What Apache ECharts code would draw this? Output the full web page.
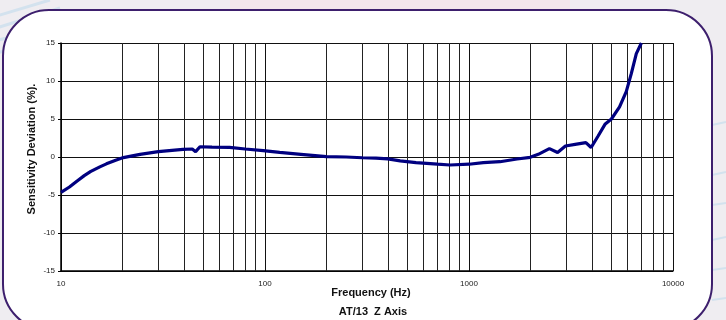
<!DOCTYPE html>
<html><head><meta charset="utf-8">
<script src="https://cdn.jsdelivr.net/npm/echarts@6/dist/echarts.min.js"></script>
<style>html,body{margin:0;padding:0;background:#efedf1}#c{width:726px;height:320px}</style>
</head><body><div id="c"></div>
<script>
const freqs = [10, 11, 12, 13, 14, 15.5, 16.7, 18.4, 20.2, 24.4, 30, 35, 39.6, 44, 45.7, 48, 55, 67, 80, 98, 118, 150, 200, 250, 300, 350, 400, 460, 550, 700, 807, 1000, 1175, 1418, 1720, 1995, 2186, 2478, 2718, 2970, 3370, 3740, 3970, 4280, 4640, 4990, 5470, 5900, 6250, 6610, 7000];
const deviation = [-4.65, -3.95, -3.15, -2.45, -1.9, -1.3, -0.9, -0.45, -0.08, 0.35, 0.7, 0.88, 1.0, 1.05, 0.7, 1.35, 1.3, 1.27, 1.05, 0.85, 0.6, 0.35, 0.05, 0.0, -0.1, -0.15, -0.25, -0.5, -0.75, -0.95, -1.05, -0.95, -0.75, -0.62, -0.26, -0.04, 0.35, 1.1, 0.6, 1.45, 1.7, 1.9, 1.25, 2.7, 4.3, 5.0, 6.6, 8.6, 11.0, 13.6, 15.0];
const minorGridFreqs = [20,30,40,50,60,70,80,90,200,300,400,500,600,700,800,900,2000,3000,4000,5000,6000,7000,8000,9000];
const yTicks = [-15,-10,-5,0,5,10,15];
const xTickLabels = ['10','100','1000','10000'];
const xTitle = 'Frequency (Hz)';
const subTitle = 'AT/13  Z Axis';
const yTitle = 'Sensitivity Deviation (%).';

const chart = echarts.init(document.getElementById('c'), null, {renderer:'canvas'});
const blue = '#d3e2ee';
const decoLines = [];
[[-10,18,50,0],[-10,30,60,8],[-10,42,40,30],[-10,55,25,45]].forEach(p=>decoLines.push({type:'line',z:-20,shape:{x1:p[0],y1:p[1],x2:p[2],y2:p[3]},style:{stroke:blue,lineWidth:3}}));
[[712,125,726,122],[712,175,726,172],[712,205,726,203],[712,240,726,237],[712,270,726,268],[712,300,726,298]].forEach(p=>decoLines.push({type:'line',z:-20,shape:{x1:p[0],y1:p[1],x2:p[2],y2:p[3]},style:{stroke:blue,lineWidth:2}}));

chart.setOption({
  backgroundColor:'#efedf1',
  animation:false,
  grid:{left:61,right:53,top:43,bottom:49,show:false},
  graphic:[
    {type:'rect',z:-30,shape:{x:230,y:0,width:340,height:12},style:{fill:'#f3e6ec'}},
    ...decoLines,
    {type:'rect',z:-10,shape:{x:3,y:10,width:709,height:320,r:46},style:{fill:'#ffffff',stroke:'#3d1f6d',lineWidth:2}},
    {type:'text',z:10,x:371,y:293,style:{text:xTitle,font:'bold 11px "Liberation Sans Narrow", "Liberation Sans", Arial',fill:'#111',align:'center',verticalAlign:'middle'}},
    {type:'text',z:10,x:373,y:312,style:{text:subTitle,font:'bold 11px "Liberation Sans Narrow", "Liberation Sans", Arial',fill:'#111',align:'center',verticalAlign:'middle'}},
    {type:'text',z:10,x:32,y:149,rotation:Math.PI/2,style:{text:yTitle,font:'bold 11px "Liberation Sans", Arial',fill:'#111',align:'center',verticalAlign:'middle'}}
  ],
  xAxis:{type:'log',logBase:10,min:10,max:10000,
    axisLine:{show:true,onZero:false,lineStyle:{color:'#000',width:1.5}},
    axisTick:{show:false},
    axisLabel:{fontSize:8,color:'#222',fontFamily:'"Liberation Sans Narrow", "Liberation Sans", Arial',margin:9,
      formatter:v=>{const s=String(Math.round(v));return xTickLabels.includes(s)?s:'';}},
    splitLine:{show:true,lineStyle:{color:'#111',width:1}}
  },
  yAxis:{type:'value',min:yTicks[0],max:yTicks[yTicks.length-1],interval:5,
    axisLine:{show:true,lineStyle:{color:'#000',width:1.5}},
    axisTick:{show:true,length:3,lineStyle:{color:'#000'}},
    axisLabel:{fontSize:8,color:'#222',fontFamily:'"Liberation Sans Narrow", "Liberation Sans", Arial',margin:6},
    splitLine:{show:true,lineStyle:{color:'#111',width:1}}
  },
  series:[{type:'line',data:freqs.map((f,i)=>[f,deviation[i]]),symbol:'none',smooth:false,
    lineStyle:{color:'#000080',width:3.2},z:5,
    markLine:{silent:true,symbol:'none',label:{show:false},animation:false,
      lineStyle:{color:'#222',width:1,type:'solid'},
      data:minorGridFreqs.map(f=>({xAxis:f}))}
  },
  {type:'line',data:[],markLine:{silent:true,symbol:'none',label:{show:false},lineStyle:{color:'#111',width:1,type:'solid'},data:[{xAxis:10000}]}}
  ]
});
</script></body></html>
